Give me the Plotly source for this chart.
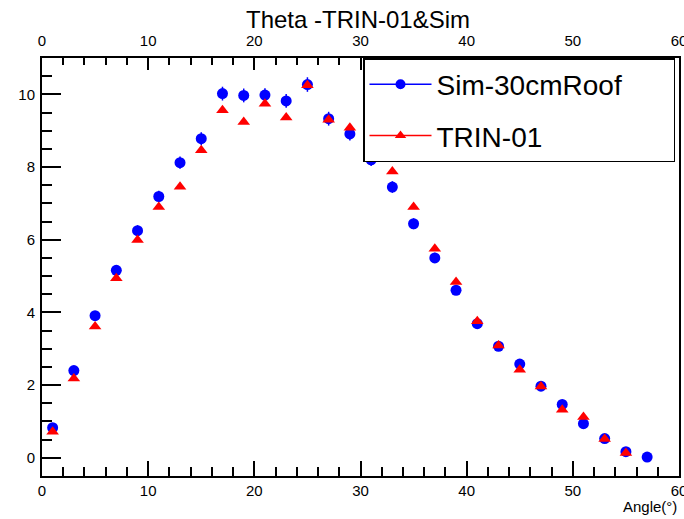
import plotly.graph_objects as go

# ---- data ----
sim_x = [1, 3, 5, 7, 9, 11, 13, 15, 17, 19, 21, 23, 25, 27, 29, 31, 33, 35, 37, 39,
         41, 43, 45, 47, 49, 51, 53, 55, 57]
sim_y = [0.83, 2.40, 3.91, 5.16, 6.25, 7.19, 8.12, 8.78, 10.02, 9.97, 9.98, 9.82, 10.27,
         9.33, 8.91, 8.20, 7.45, 6.44, 5.50, 4.61, 3.69, 3.07, 2.58, 1.97, 1.47, 0.94,
         0.53, 0.17, 0.02]
sim_err = [0.07, 0.10, 0.12, 0.14, 0.15, 0.16, 0.17, 0.18, 0.19, 0.19, 0.19, 0.19, 0.20,
           0.19, 0.18, 0.17, 0.16, 0.15, 0.14, 0.13, 0.12, 0.11, 0.10, 0.09, 0.08, 0.06,
           0.05, 0.03, 0.01]

trin_x = [1, 3, 5, 7, 9, 11, 13, 15, 17, 19, 21, 23, 25, 27, 29, 31, 33, 35, 37, 39,
          41, 43, 45, 47, 49, 51, 53, 55]
trin_y = [0.72, 2.18, 3.61, 4.94, 5.99, 6.90, 7.46, 8.46, 9.56, 9.24, 9.74, 9.36, 10.25,
          9.30, 9.08, 8.50, 7.88, 6.90, 5.75, 4.84, 3.76, 3.09, 2.42, 1.96, 1.32, 1.12,
          0.52, 0.13]

title_text = "Theta -TRIN-01&Sim"
x_title = "Angle(°)"
sim_name = "Sim-30cmRoof"
trin_name = "TRIN-01"

FONT = "Liberation Sans, Arial, Helvetica, sans-serif"
NB = "\u00a0"

fig = go.Figure()

# data traces
fig.add_trace(go.Scatter(
    x=sim_x, y=sim_y, mode="markers", showlegend=False,
    marker=dict(symbol="circle", size=11, color="#0000ff"),
    error_y=dict(type="data", array=sim_err, color="#0000ff", thickness=1.5, width=0),
))
fig.add_trace(go.Scatter(
    x=trin_x, y=trin_y, mode="markers", showlegend=False,
    marker=dict(symbol="triangle-up", size=11, color="#ff0000"),
))

# legend-only traces (line + marker symbol as in the reference)
fig.add_trace(go.Scatter(
    x=[None], y=[None], mode="lines+markers", name=sim_name + NB * 6,
    legendgroup="a",
    line=dict(color="#0000ff", width=1.5),
    marker=dict(symbol="circle", size=10, color="#0000ff"),
))
fig.add_trace(go.Scatter(
    x=[None], y=[None], mode="lines+markers", name=trin_name,
    legendgroup="b",
    line=dict(color="#ff0000", width=1.5),
    marker=dict(symbol="triangle-up", size=10, color="#ff0000"),
))
# empty trace to activate the top axis
fig.add_trace(go.Scatter(x=[], y=[], xaxis="x2", showlegend=False))

axis_common = dict(
    showgrid=False, zeroline=False, showline=True, linecolor="black", linewidth=2,
    ticks="inside", tickcolor="black", tickwidth=1.5, automargin=False,
    ticklabeloverflow="allow",
    tickfont=dict(family=FONT, size=15, color="black"),
)

fig.update_layout(
    width=684, height=519,
    margin=dict(l=42, r=5, t=58, b=43),
    paper_bgcolor="white", plot_bgcolor="white",
    font=dict(family=FONT, color="black"),
    title=dict(text=title_text, x=358 / 684, xanchor="center", xref="container",
               y=1 - 20 / 519, yanchor="middle", yref="container",
               font=dict(family=FONT, size=24, color="black")),
    xaxis=dict(range=[0, 60], dtick=10, ticklen=15,
               minor=dict(dtick=2, ticklen=9, ticks="inside", tickcolor="black", tickwidth=1.5),
               **axis_common),
    xaxis2=dict(range=[0, 60], dtick=10, ticklen=12, overlaying="x", side="top",
                ticklabelstandoff=4,
                minor=dict(dtick=2, ticklen=7, ticks="inside", tickcolor="black", tickwidth=1.5),
                **axis_common),
    yaxis=dict(range=[-0.5, 11], dtick=2, ticklen=19, mirror=True, ticklabelstandoff=2,
               minor=dict(dtick=0.5, ticklen=10, ticks="inside", tickcolor="black", tickwidth=1.5),
               **axis_common),
    legend=dict(x=(363 - 42) / 637, y=1, xanchor="left", yanchor="top",
                bgcolor="white", bordercolor="black", borderwidth=1.5,
                font=dict(family=FONT, size=28, color="black"),
                itemwidth=62, tracegroupgap=12),
    annotations=[dict(text=x_title, xref="paper", yref="paper", x=1, y=-0.072,
                      xanchor="right", yanchor="middle", showarrow=False,
                      font=dict(family=FONT, size=15, color="black"))],
)

fig.write_html("out.html", config={"displayModeBar": False},
               post_script="document.body.style.margin='0';")
